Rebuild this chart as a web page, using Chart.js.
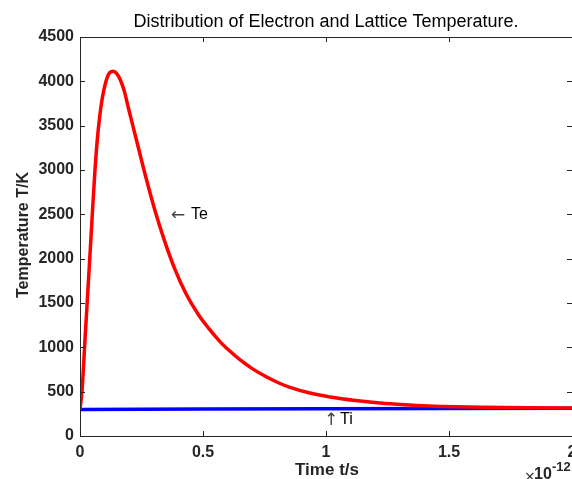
<!DOCTYPE html>
<html>
<head>
<meta charset="utf-8">
<script src="https://cdn.jsdelivr.net/npm/chart.js@4/dist/chart.umd.min.js"></script>
<style>
  html, body { margin: 0; padding: 0; background: #fff; overflow: hidden; }
  #wrap { position: relative; width: 620px; height: 479px; }
</style>
</head>
<body>
<div id="wrap"><canvas id="c"></canvas></div>
<script>
// time in units of 1e-12 s
var teTime = [0, 0.008, 0.02, 0.03, 0.04, 0.05, 0.06, 0.07, 0.08, 0.09, 0.10, 0.11, 0.12, 0.135, 0.15, 0.165, 0.18, 0.196, 0.23, 0.264, 0.305, 0.345, 0.386, 0.43, 0.481, 0.52, 0.569, 0.61, 0.65, 0.70, 0.759, 0.813, 0.854, 0.93, 1.016, 1.12, 1.22, 1.32, 1.42, 1.53, 1.63, 1.82, 2.0]
var teValues = [300, 500, 1070, 1545, 2020, 2500, 2960, 3333, 3600, 3800, 3940, 4040, 4095, 4114, 4085, 4010, 3890, 3708, 3333, 2957, 2540, 2190, 1880, 1610, 1370, 1225, 1065, 955, 860, 760, 665, 592, 548, 487, 440, 400, 372, 353, 339, 330, 325, 319, 316]
var tiTime = [0, 0.5, 1.0, 1.5, 2.0]
var tiValues = [300, 304, 308, 311, 313]
var xTicks = [0, 0.5, 1, 1.5, 2]
var yTicks = [0, 500, 1000, 1500, 2000, 2500, 3000, 3500, 4000, 4500]

function pts(xs, ys) {
    return xs.map(function (x, i) { return {x: x, y: ys[i]} })
}

var tickFont = {family: 'Liberation Sans, Arial', size: 16, weight: 'bold'}

var matlabAxes = {
    id: 'matlabAxes',
    afterDraw: function (chart) {
        var ctx = chart.ctx
        var a = chart.chartArea
        var xs = chart.scales.x, ys = chart.scales.y
        ctx.save()
        ctx.strokeStyle = '#262626'
        ctx.lineWidth = 1
        ctx.beginPath()
        ctx.rect(Math.round(a.left) + 0.5, Math.round(a.top) + 0.5, Math.round(a.right - a.left), Math.round(a.bottom - a.top))
        xTicks.forEach(function (v) {
            var px = Math.round(xs.getPixelForValue(v)) + 0.5
            ctx.moveTo(px, a.bottom); ctx.lineTo(px, a.bottom - 5)
            ctx.moveTo(px, a.top); ctx.lineTo(px, a.top + 5)
        })
        yTicks.forEach(function (v) {
            var py = Math.round(ys.getPixelForValue(v)) + 0.5
            ctx.moveTo(a.left, py); ctx.lineTo(a.left + 5, py)
            ctx.moveTo(a.right, py); ctx.lineTo(a.right - 5, py)
        })
        ctx.stroke()

        // title
        ctx.fillStyle = '#000'
        ctx.textAlign = 'center'
        ctx.textBaseline = 'middle'
        ctx.font = '18px "Liberation Sans", Arial'
        ctx.fillText('Distribution of Electron and Lattice Temperature.', (a.left + 572) / 2, 22)

        // axis titles
        ctx.fillStyle = '#262626'
        ctx.font = 'bold 17px "Liberation Sans", Arial'
        ctx.fillText('Time t/s', 327, 470)
        ctx.save()
        ctx.translate(24, 235)
        ctx.rotate(-Math.PI / 2)
        ctx.font = 'bold 16px "Liberation Sans", Arial'
        ctx.fillText('Temperature T/K', 0, 0)
        ctx.restore()

        // exponent
        ctx.textAlign = 'left'
        ctx.font = 'bold 16px "Liberation Sans", Arial'
        ctx.fillText('10', 534, 475)
        ctx.font = 'bold 13px "Liberation Sans", Arial'
        ctx.fillText('-12', 552, 467)
        ctx.font = '14px "DejaVu Sans"'
        ctx.fillText('\u00d7', 524, 477)

        // annotations
        ctx.font = '17px "DejaVu Sans"'
        ctx.fillStyle = '#444'
        ctx.fillText('\u2190', 171, 216)
        ctx.fillText('\u2191', 324, 421)
        ctx.fillStyle = '#000'
        ctx.font = '16px "Liberation Sans", Arial'
        ctx.fillText('Te', 191, 215)
        ctx.fillText('Ti', 340, 420)
        ctx.restore()
    }
}

new Chart(document.getElementById('c').getContext('2d'), {
    type: 'line',
    data: {
        datasets: [{
            label: 'Te',
            data: pts(teTime, teValues),
            borderColor: '#FF0000',
            borderWidth: 3.5,
            pointRadius: 0,
            cubicInterpolationMode: 'monotone',
            fill: false
        }, {
            label: 'Ti',
            data: pts(tiTime, tiValues),
            borderColor: '#0000FF',
            borderWidth: 3.5,
            pointRadius: 0,
            fill: false
        }]
    },
    options: {
        responsive: true,
        maintainAspectRatio: false,
        animation: false,
        layout: {padding: {left: 0, right: 48, top: 37, bottom: 0}},
        plugins: {
            legend: {display: false},
            tooltip: {enabled: false}
        },
        scales: {
            x: {
                type: 'linear',
                min: 0,
                max: 2,
                afterBuildTicks: function (s) { s.ticks = xTicks.map(function (v) { return {value: v} }) },
                afterFit: function (s) { s.height = 43; s.paddingLeft = 0; s.paddingRight = 0 },
                grid: {display: false, drawTicks: false},
                border: {display: false},
                ticks: {
                    color: '#262626',
                    font: tickFont,
                    padding: 7,
                    maxRotation: 0,
                    callback: function (v) { return String(v) }
                }
            },
            y: {
                type: 'linear',
                min: 0,
                max: 4500,
                afterBuildTicks: function (s) { s.ticks = yTicks.map(function (v) { return {value: v} }) },
                afterFit: function (s) { s.width = 80; s.paddingTop = 0; s.paddingBottom = 0 },
                grid: {display: false, drawTicks: false},
                border: {display: false},
                ticks: {
                    color: '#262626',
                    font: tickFont,
                    padding: 6,
                    callback: function (v) { return String(v) }
                }
            }
        }
    },
    plugins: [matlabAxes]
})
</script>
</body>
</html>
